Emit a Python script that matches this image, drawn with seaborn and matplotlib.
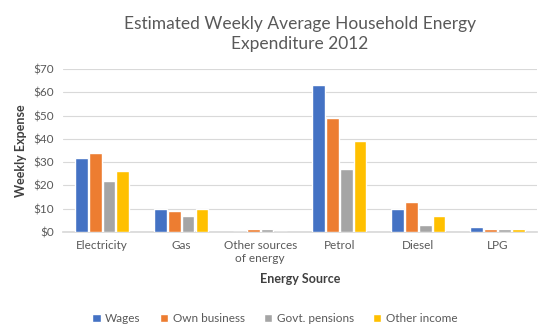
import matplotlib
matplotlib.use("Agg")
import matplotlib.pyplot as plt
import seaborn as sns
import pandas as pd
from matplotlib.ticker import FuncFormatter, MultipleLocator

categories = ["Electricity", "Gas", "Other sources\nof energy", "Petrol", "Diesel", "LPG"]
series = ["Wages", "Own business", "Govt. pensions", "Other income"]
wages = [32, 10, 0, 63, 10, 2]
own_business = [34, 9, 1.2, 49, 13, 1.2]
govt_pensions = [22, 7, 1.2, 27, 3, 1.2]
other_income = [26, 10, 0, 39, 7, 1.2]
colors = ["#4472C4", "#ED7D31", "#A5A5A5", "#FFC000"]

rows = []
for s, vals in zip(series, [wages, own_business, govt_pensions, other_income]):
    for c, v in zip(categories, vals):
        rows.append({"Energy Source": c, "Income": s, "Value": v})
df = pd.DataFrame(rows)

sns.set_theme(style="white")
plt.rcParams['font.family'] = ['Lato', 'DejaVu Sans']

fig = plt.figure(figsize=(5.44, 3.33), dpi=100)
ax = fig.add_axes([0.115, 0.303, 0.872, 0.49])
sns.barplot(data=df, x="Energy Source", y="Value", hue="Income", order=categories,
            hue_order=series, palette=colors, width=0.7, gap=0.08, saturation=1,
            ax=ax, legend=True, zorder=3)

ax.set_ylim(0, 70)
ax.yaxis.set_major_locator(MultipleLocator(10))
ax.yaxis.set_major_formatter(FuncFormatter(lambda v, p: f"${int(v)}"))
ax.grid(axis="y", color="#D9D9D9", linewidth=0.8, zorder=0)
ax.set_axisbelow(True)
for side in ["top", "right", "left"]:
    ax.spines[side].set_visible(False)
ax.spines["bottom"].set_color("#D9D9D9")
ax.spines["bottom"].set_zorder(1)
ax.tick_params(axis="both", length=0, labelsize=8.5, labelcolor="#595959", pad=6)
ax.set_xlabel("Energy Source", fontsize=9, fontweight="bold", color="#404040", labelpad=6)
ax.set_ylabel("Weekly Expense", fontsize=9, fontweight="bold", color="#404040", labelpad=5)
ax.set_title("Estimated Weekly Average Household Energy\nExpenditure 2012", fontsize=12.5,
             color="#595959", pad=14, linespacing=1.35)

handles, labels = ax.get_legend_handles_labels()
ax.legend_.remove()
fig.legend(handles, labels, loc="lower center", bbox_to_anchor=(0.505, -0.005), ncol=4,
           frameon=False, fontsize=8.5, handlelength=0.7, handleheight=0.7,
           handletextpad=0.4, columnspacing=1.6, labelcolor="#595959")

fig.savefig("out.png", dpi=100)
